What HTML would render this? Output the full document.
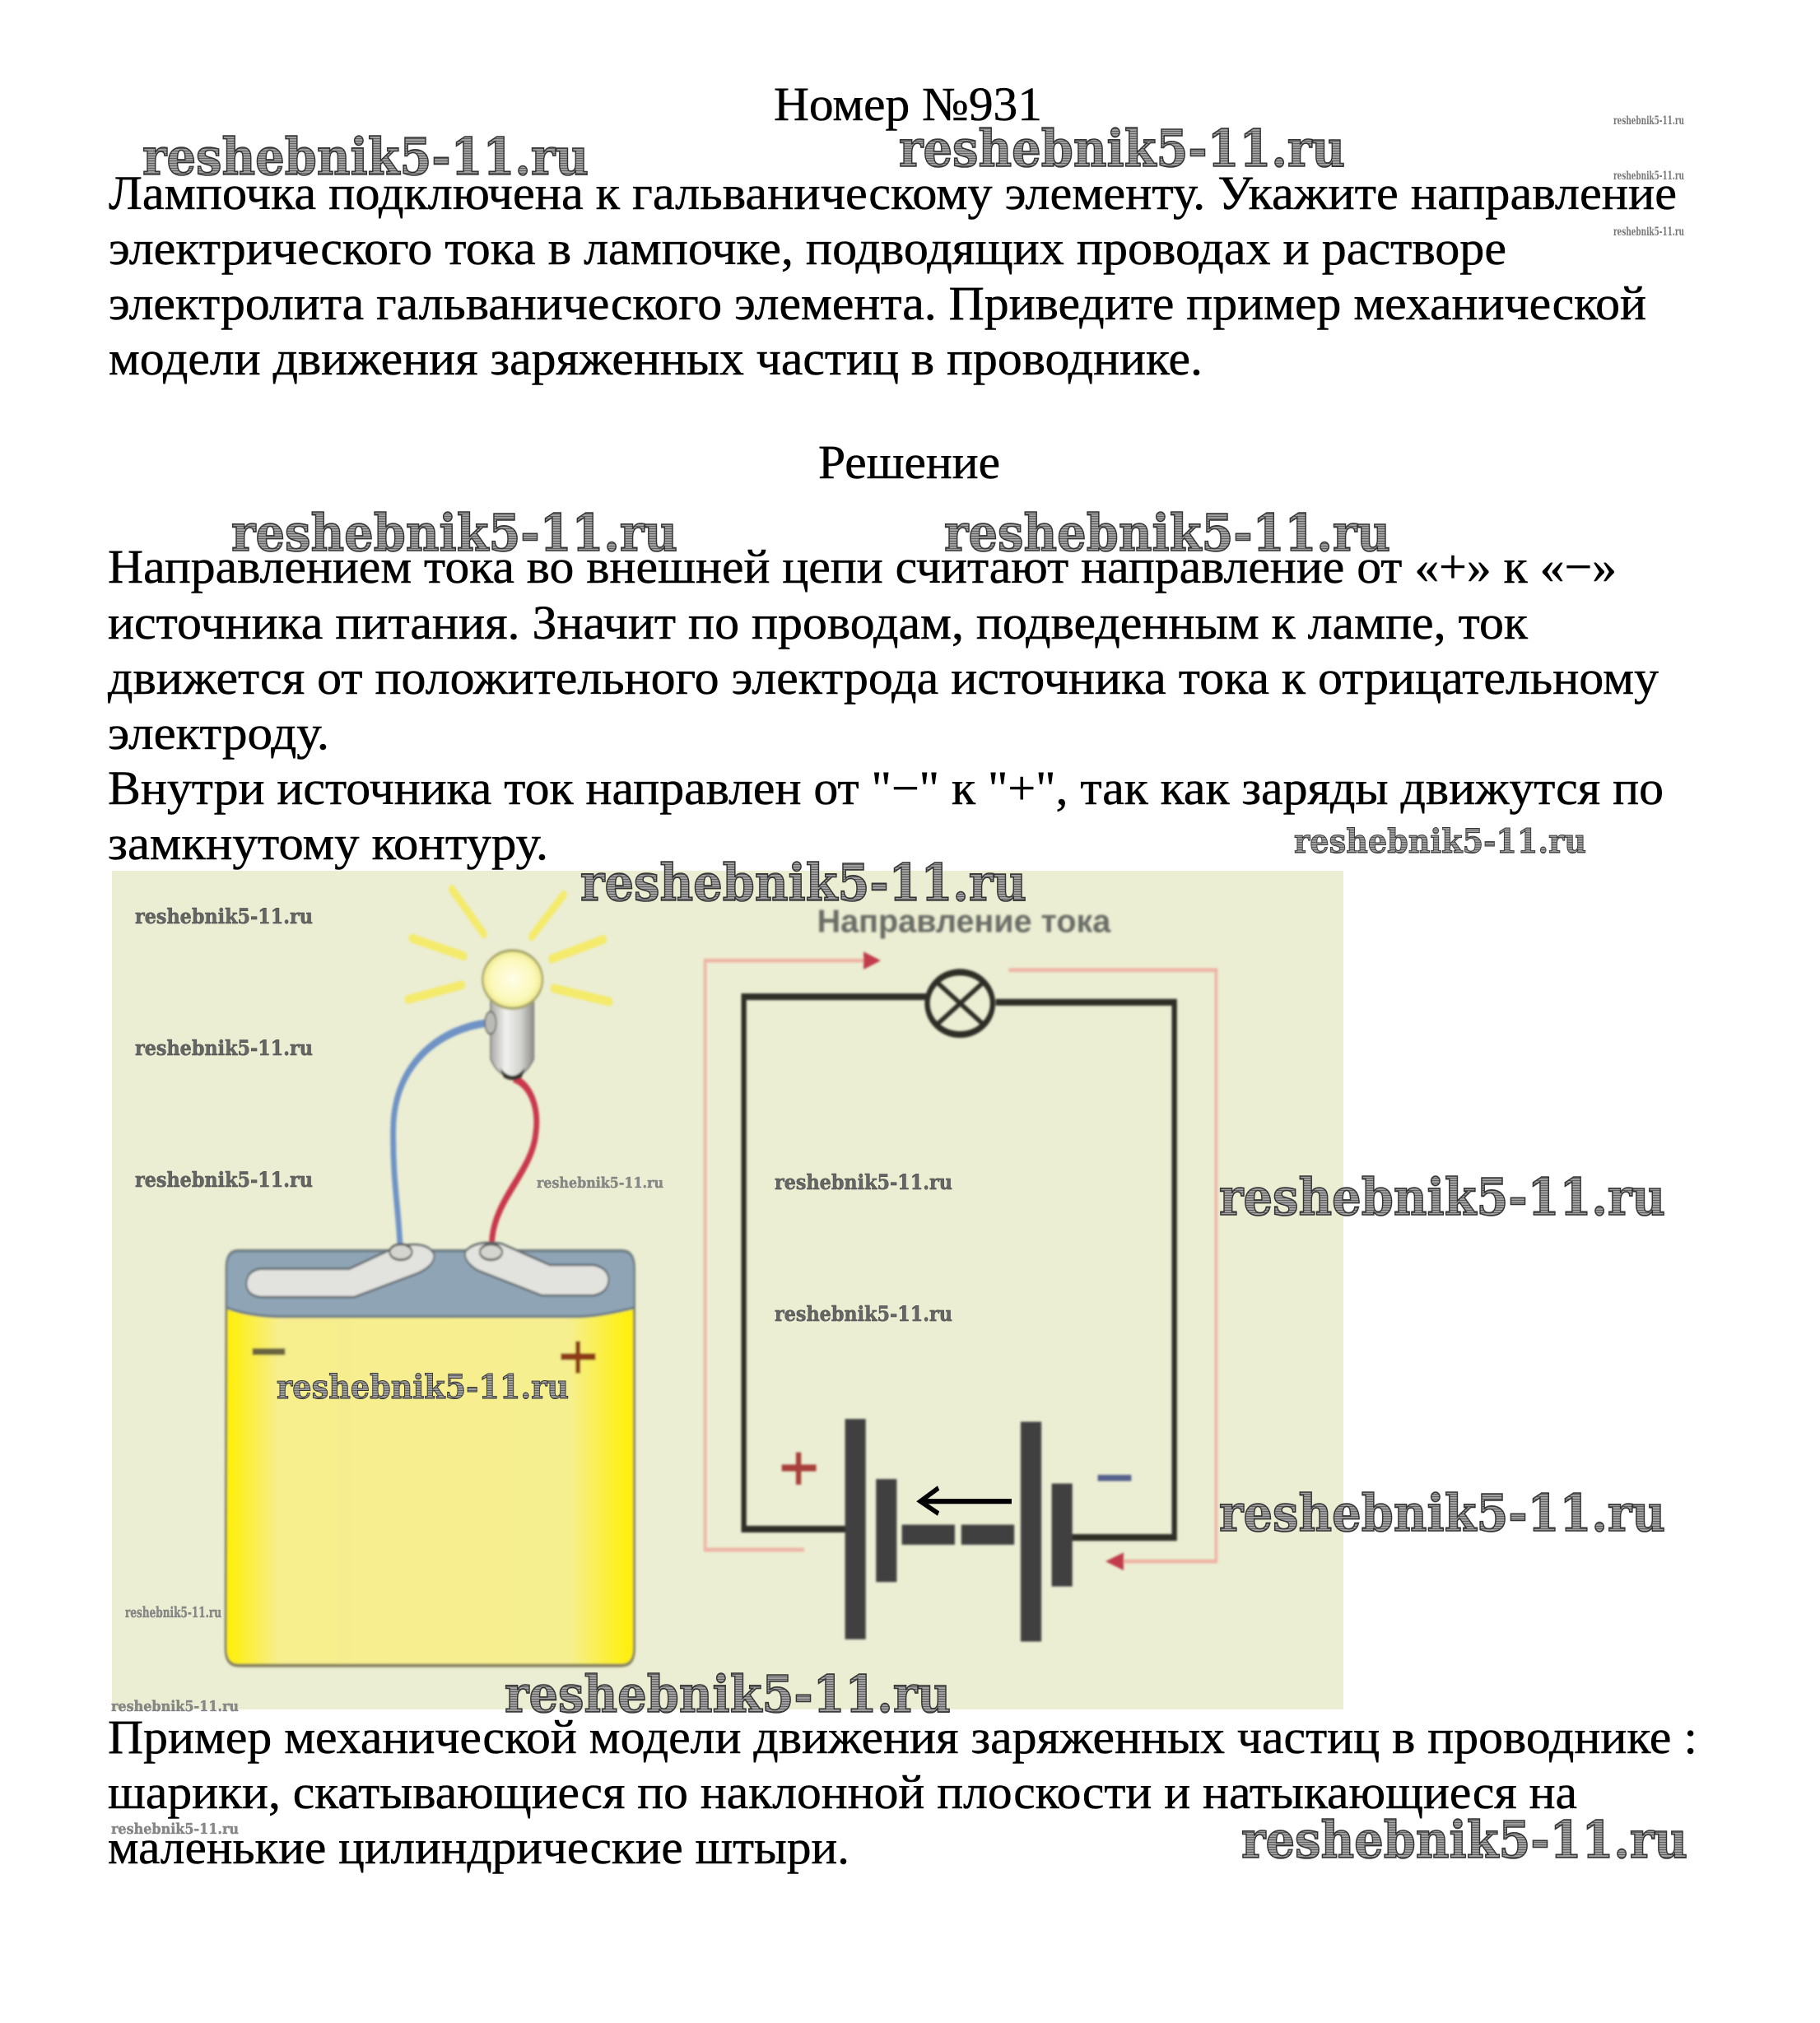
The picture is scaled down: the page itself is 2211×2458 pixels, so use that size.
<!DOCTYPE html>
<html lang="ru"><head><meta charset="utf-8"><title>Номер №931</title>
<style>
html,body{margin:0;padding:0;background:#fff}
svg{display:block}
.t{font:58px "Liberation Serif","DejaVu Serif",serif;fill:#000;stroke:#000;stroke-width:.5}
.w{font-family:"DejaVu Serif","Liberation Serif",serif;font-weight:700;stroke:#333;paint-order:normal}
.b{font-size:62px;fill:url(#h);stroke-width:1.6}
.m{font-size:40px;fill:url(#h);stroke-width:1}
.s{font-size:25px;fill:#666;stroke:#444;stroke-width:.5}
.x{font-size:18px;fill:#888;stroke:#666;stroke-width:.3}
.y{font-size:14px;fill:#777;stroke:none}
</style></head><body>
<svg xmlns="http://www.w3.org/2000/svg" width="2211" height="2458" viewBox="0 0 2211 2458">
<defs>
<pattern id="h" width="3" height="3" patternUnits="userSpaceOnUse"><rect width="3" height="3" fill="#a0a0a0"/><rect width="3" height="1" fill="#5e5e5e"/></pattern>
<linearGradient id="bat" x1="0" x2="1" y1="0" y2="0"><stop offset="0" stop-color="#fff000"/><stop offset=".13" stop-color="#f7ee8e"/><stop offset=".84" stop-color="#f6ef90"/><stop offset="1" stop-color="#fff000"/></linearGradient>
<radialGradient id="bulb"><stop offset="0" stop-color="#fffde8"/><stop offset=".75" stop-color="#fbf8b8"/><stop offset="1" stop-color="#eee98a"/></radialGradient>
<linearGradient id="base" x1="0" x2="1" y1="0" y2="0"><stop offset="0" stop-color="#a9aaa5"/><stop offset=".35" stop-color="#f1f1ee"/><stop offset=".7" stop-color="#d2d2cf"/><stop offset="1" stop-color="#8d8e8a"/></linearGradient>
<filter id="bl" x="-5%" y="-5%" width="110%" height="110%"><feGaussianBlur stdDeviation="1.3"/></filter>
</defs>
<rect width="2211" height="2458" fill="#fff"/>
<rect x="136" y="1058" width="1496" height="1019" fill="#ebeed3"/>

<g filter="url(#bl)">
<g transform="translate(120 1040) scale(.4847 .676)">
<g stroke="#f4ea6c" stroke-width="16" stroke-linecap="round" fill="none">
<path d="M885 60L965 140M1165 70L1085 145M785 148L915 180M1265 150L1135 185M775 258L910 232M1140 238L1280 262"/>
</g>
<path d="M975 300C860 310 740 370 738 490C736 580 752 640 755 700" fill="none" stroke="#6f93c6" stroke-width="14"/>
<path d="M1040 400C1080 410 1105 450 1095 500C1085 570 985 620 985 700" fill="none" stroke="#c9374e" stroke-width="14"/>
<path d="M982 260H1090V365Q1070 395 1037 398Q1000 395 982 365Z" fill="url(#base)" stroke="#777" stroke-width="3"/>
<path d="M1005 380Q1037 410 1068 380L1060 398Q1037 408 1015 398Z" fill="#33322c"/>
<ellipse cx="1037" cy="222" rx="75" ry="52" fill="url(#bulb)" stroke="#a8a66a" stroke-width="5"/>
<ellipse cx="982" cy="300" rx="14" ry="20" fill="#b9bab5" stroke="#666" stroke-width="3"/>
<path d="M320 740Q320 710 350 710H1310Q1342 710 1342 740V1425Q1342 1455 1310 1455H350Q318 1455 318 1425Z" fill="url(#bat)" stroke="#85815f" stroke-width="6"/>
<path d="M320 740Q320 710 350 710H1310Q1342 710 1342 740V812Q1250 828 1200 828H460Q380 828 320 812Z" fill="#8fa5b6" stroke="#6f7f88" stroke-width="5"/>
<path d="M405 742H628L745 703Q820 690 840 715Q845 735 800 750L640 793H405Q370 790 370 768Q372 745 405 742Z" fill="#e2e2de" stroke="#5e686c" stroke-width="4"/>
<path d="M1240 735H1130L1010 697Q940 690 918 712Q915 730 950 745L1110 790H1240Q1278 785 1278 760Q1275 740 1240 735Z" fill="#e2e2de" stroke="#5e686c" stroke-width="4"/>
<ellipse cx="757" cy="712" rx="28" ry="14" fill="#d5d5d0" stroke="#555" stroke-width="4"/>
<ellipse cx="983" cy="712" rx="28" ry="14" fill="#d5d5d0" stroke="#555" stroke-width="4"/>
<rect x="385" y="885" width="82" height="12" fill="#6b6540"/>
<path d="M1158 900H1245M1201 872V930" stroke="#8e3b12" stroke-width="12" fill="none"/>
</g>
<g transform="translate(820 1040) scale(.523 .676)">
<path d="M300 1247H70V188H440" fill="none" stroke="#eeb4a6" stroke-width="7"/>
<path d="M478 188L438 172V204Z" fill="#c13a4c"/>
<path d="M775 205H1257V1268H1040" fill="none" stroke="#eeb4a6" stroke-width="7"/>
<path d="M1000 1268L1042 1252V1284Z" fill="#c13a4c"/>
<path d="M585 253H160V1210H415M745 263H1160V1225H920" fill="none" stroke="#2d2f26" stroke-width="12"/>
<ellipse cx="662" cy="265" rx="76" ry="56" fill="none" stroke="#2d2f26" stroke-width="12"/>
<path d="M610 228L715 302M715 228L610 302" stroke="#2d2f26" stroke-width="9"/>
<g fill="#3f3f3f">
<rect x="395" y="1012" width="48" height="396"/>
<rect x="467" y="1120" width="48" height="185"/>
<rect x="527" y="1202" width="123" height="36"/>
<rect x="665" y="1202" width="123" height="36"/>
<rect x="803" y="1017" width="48" height="395"/>
<rect x="875" y="1128" width="48" height="185"/>
</g>
<path d="M248 1100H328M287 1072V1130" stroke="#a8413a" stroke-width="12" fill="none"/>
<path d="M982 1118H1060" stroke="#54618c" stroke-width="11" fill="none"/>
<text x="330" y="137" font-family="'Liberation Sans',sans-serif" font-size="58" font-weight="700" fill="#6a6d66" textLength="682" lengthAdjust="spacingAndGlyphs">Направление тока</text>
</g>
</g>
<g transform="translate(820 1040) scale(.523 .676)">
<path d="M782 1160H572M612 1136L570 1160L612 1182" fill="none" stroke="#000" stroke-width="9"/>
</g>

<g class="t">
<text x="940" y="146" textLength="326" lengthAdjust="spacingAndGlyphs">Номер №931</text>
<text x="132" y="254" textLength="1905" lengthAdjust="spacingAndGlyphs">Лампочка подключена к гальваническому элементу. Укажите направление</text>
<text x="132" y="321" textLength="1698" lengthAdjust="spacingAndGlyphs">электрического тока в лампочке, подводящих проводах и растворе</text>
<text x="132" y="388" textLength="1868" lengthAdjust="spacingAndGlyphs">электролита гальванического элемента. Приведите пример механической</text>
<text x="132" y="455" textLength="1329" lengthAdjust="spacingAndGlyphs">модели движения заряженных частиц в проводнике.</text>
<text x="994" y="581" textLength="221" lengthAdjust="spacingAndGlyphs">Решение</text>
<text x="131" y="708" textLength="1833" lengthAdjust="spacingAndGlyphs">Направлением тока во внешней цепи считают направление от «+» к «−»</text>
<text x="131" y="776" textLength="1725" lengthAdjust="spacingAndGlyphs">источника питания. Значит по проводам, подведенным к лампе, ток</text>
<text x="131" y="843" textLength="1884" lengthAdjust="spacingAndGlyphs">движется от положительного электрода источника тока к отрицательному</text>
<text x="131" y="910" textLength="269" lengthAdjust="spacingAndGlyphs">электроду.</text>
<text x="131" y="977" textLength="1890" lengthAdjust="spacingAndGlyphs">Внутри источника ток направлен от "−" к "+", так как заряды движутся по</text>
<text x="131" y="1044" textLength="535" lengthAdjust="spacingAndGlyphs">замкнутому контуру.</text>
<text x="131" y="2130" textLength="1931" lengthAdjust="spacingAndGlyphs">Пример механической модели движения заряженных частиц в проводнике :</text>
<text x="131" y="2197" textLength="1785" lengthAdjust="spacingAndGlyphs">шарики, скатывающиеся по наклонной плоскости и натыкающиеся на</text>
<text x="131" y="2264" textLength="901" lengthAdjust="spacingAndGlyphs">маленькие цилиндрические штыри.</text>
</g>

<g class="w">
<g class="b">
<text x="173" y="212" textLength="542" lengthAdjust="spacingAndGlyphs">reshebnik5-11.ru</text>
<text x="1092" y="202" textLength="542" lengthAdjust="spacingAndGlyphs">reshebnik5-11.ru</text>
<text x="281" y="669" textLength="542" lengthAdjust="spacingAndGlyphs">reshebnik5-11.ru</text>
<text x="1147" y="669" textLength="542" lengthAdjust="spacingAndGlyphs">reshebnik5-11.ru</text>
<text x="705" y="1094" textLength="542" lengthAdjust="spacingAndGlyphs">reshebnik5-11.ru</text>
<text x="1481" y="1476" textLength="542" lengthAdjust="spacingAndGlyphs">reshebnik5-11.ru</text>
<text x="1481" y="1860" textLength="542" lengthAdjust="spacingAndGlyphs">reshebnik5-11.ru</text>
<text x="613" y="2080" textLength="542" lengthAdjust="spacingAndGlyphs">reshebnik5-11.ru</text>
<text x="1508" y="2257" textLength="542" lengthAdjust="spacingAndGlyphs">reshebnik5-11.ru</text>
</g>
<g class="m">
<text x="1572" y="1036" textLength="355" lengthAdjust="spacingAndGlyphs">reshebnik5-11.ru</text>
<text x="336" y="1699" textLength="355" lengthAdjust="spacingAndGlyphs">reshebnik5-11.ru</text>
</g>
<g class="s">
<text x="164" y="1122" textLength="216" lengthAdjust="spacingAndGlyphs">reshebnik5-11.ru</text>
<text x="164" y="1282" textLength="216" lengthAdjust="spacingAndGlyphs">reshebnik5-11.ru</text>
<text x="164" y="1442" textLength="216" lengthAdjust="spacingAndGlyphs">reshebnik5-11.ru</text>
<text x="941" y="1445" textLength="216" lengthAdjust="spacingAndGlyphs">reshebnik5-11.ru</text>
<text x="941" y="1605" textLength="216" lengthAdjust="spacingAndGlyphs">reshebnik5-11.ru</text>
</g>
<g class="x">
<text x="652" y="1443" textLength="154" lengthAdjust="spacingAndGlyphs">reshebnik5-11.ru</text>
<text x="152" y="1965" textLength="117" lengthAdjust="spacingAndGlyphs">reshebnik5-11.ru</text>
<text x="135" y="2079" textLength="155" lengthAdjust="spacingAndGlyphs">reshebnik5-11.ru</text>
<text x="135" y="2228" textLength="155" lengthAdjust="spacingAndGlyphs">reshebnik5-11.ru</text>
</g>
<g class="y">
<text x="1960" y="151" textLength="86" lengthAdjust="spacingAndGlyphs">reshebnik5-11.ru</text>
<text x="1960" y="218" textLength="86" lengthAdjust="spacingAndGlyphs">reshebnik5-11.ru</text>
<text x="1960" y="286" textLength="86" lengthAdjust="spacingAndGlyphs">reshebnik5-11.ru</text>
</g>
</g>
</svg>
</body></html>
